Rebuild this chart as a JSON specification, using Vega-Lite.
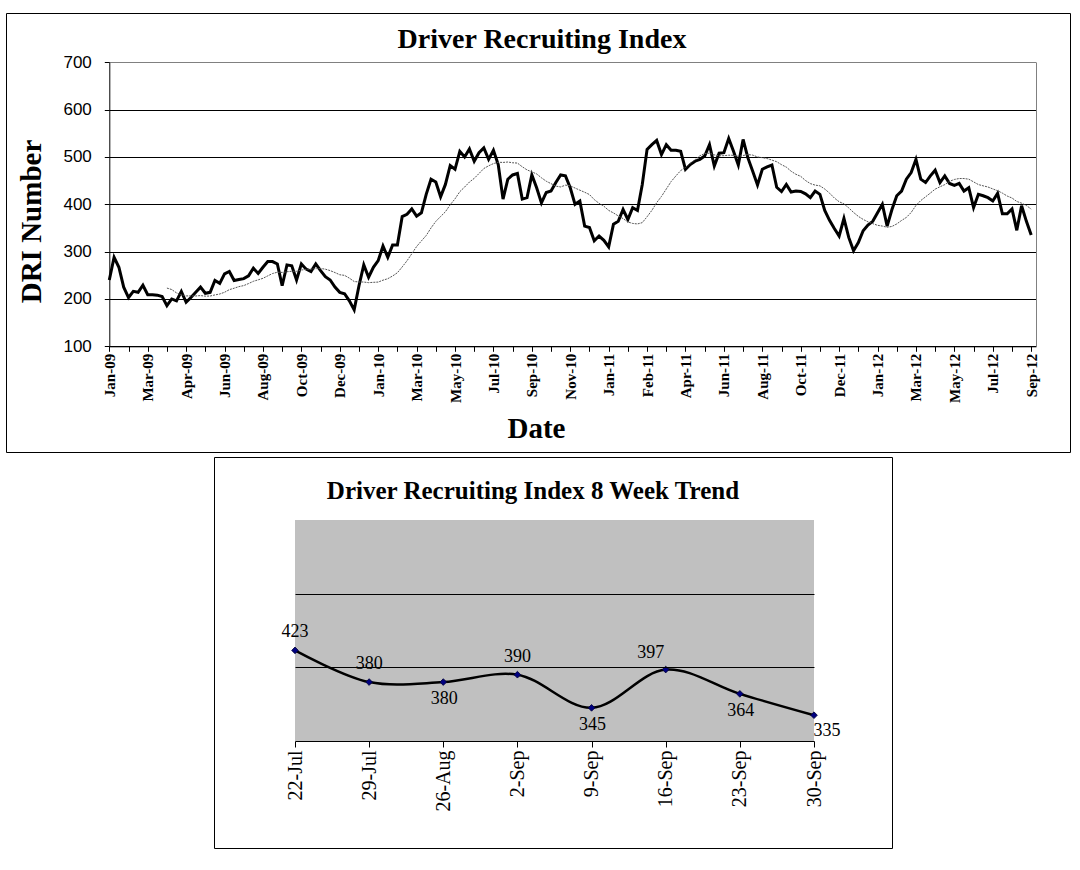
{
  "$schema": "https://vega.github.io/schema/vega-lite/v6.json",
  "background": "white",
  "padding": {"left": 5, "top": 12, "right": 0, "bottom": 0},
  "config": {
    "view": {"stroke": "black", "strokeWidth": 1},
    "font": "Liberation Serif",
    "axis": {"domainColor": "black", "tickColor": "black", "labelColor": "black", "titleColor": "black", "gridColor": "black", "gridOpacity": 1}
  },
  "datasets": {
    "weekly": [
      {"date": "2009-01-04", "dri": 240}, {"date": "2009-01-11", "dri": 288}, {"date": "2009-01-18", "dri": 267}, {"date": "2009-01-25", "dri": 225},
      {"date": "2009-02-01", "dri": 203}, {"date": "2009-02-08", "dri": 216}, {"date": "2009-02-15", "dri": 214}, {"date": "2009-02-22", "dri": 229},
      {"date": "2009-03-01", "dri": 209}, {"date": "2009-03-08", "dri": 209}, {"date": "2009-03-15", "dri": 208}, {"date": "2009-03-22", "dri": 205},
      {"date": "2009-03-29", "dri": 186}, {"date": "2009-04-05", "dri": 200}, {"date": "2009-04-12", "dri": 196}, {"date": "2009-04-19", "dri": 216},
      {"date": "2009-04-26", "dri": 193}, {"date": "2009-05-03", "dri": 203}, {"date": "2009-05-10", "dri": 214}, {"date": "2009-05-17", "dri": 225},
      {"date": "2009-05-24", "dri": 212}, {"date": "2009-05-31", "dri": 214}, {"date": "2009-06-07", "dri": 239}, {"date": "2009-06-14", "dri": 233},
      {"date": "2009-06-21", "dri": 253}, {"date": "2009-06-28", "dri": 258}, {"date": "2009-07-05", "dri": 239}, {"date": "2009-07-12", "dri": 241},
      {"date": "2009-07-19", "dri": 243}, {"date": "2009-07-26", "dri": 249}, {"date": "2009-08-02", "dri": 265}, {"date": "2009-08-09", "dri": 254},
      {"date": "2009-08-16", "dri": 267}, {"date": "2009-08-23", "dri": 279}, {"date": "2009-08-30", "dri": 279}, {"date": "2009-09-06", "dri": 274},
      {"date": "2009-09-13", "dri": 228}, {"date": "2009-09-20", "dri": 272}, {"date": "2009-09-27", "dri": 270}, {"date": "2009-10-04", "dri": 240},
      {"date": "2009-10-11", "dri": 274}, {"date": "2009-10-18", "dri": 263}, {"date": "2009-10-25", "dri": 258}, {"date": "2009-11-01", "dri": 274},
      {"date": "2009-11-08", "dri": 260}, {"date": "2009-11-15", "dri": 247}, {"date": "2009-11-22", "dri": 240}, {"date": "2009-11-29", "dri": 225},
      {"date": "2009-12-06", "dri": 214}, {"date": "2009-12-13", "dri": 211}, {"date": "2009-12-20", "dri": 196}, {"date": "2009-12-27", "dri": 177},
      {"date": "2010-01-03", "dri": 228}, {"date": "2010-01-10", "dri": 272}, {"date": "2010-01-17", "dri": 246}, {"date": "2010-01-24", "dri": 267},
      {"date": "2010-01-31", "dri": 281}, {"date": "2010-02-07", "dri": 312}, {"date": "2010-02-14", "dri": 288}, {"date": "2010-02-21", "dri": 314},
      {"date": "2010-02-28", "dri": 314}, {"date": "2010-03-07", "dri": 374}, {"date": "2010-03-14", "dri": 379}, {"date": "2010-03-21", "dri": 390},
      {"date": "2010-03-28", "dri": 375}, {"date": "2010-04-04", "dri": 382}, {"date": "2010-04-11", "dri": 421}, {"date": "2010-04-18", "dri": 453},
      {"date": "2010-04-25", "dri": 447}, {"date": "2010-05-02", "dri": 416}, {"date": "2010-05-09", "dri": 442}, {"date": "2010-05-16", "dri": 482},
      {"date": "2010-05-23", "dri": 474}, {"date": "2010-05-30", "dri": 512}, {"date": "2010-06-06", "dri": 500}, {"date": "2010-06-13", "dri": 517},
      {"date": "2010-06-20", "dri": 491}, {"date": "2010-06-27", "dri": 509}, {"date": "2010-07-04", "dri": 519}, {"date": "2010-07-11", "dri": 495},
      {"date": "2010-07-18", "dri": 514}, {"date": "2010-07-25", "dri": 484}, {"date": "2010-08-01", "dri": 411}, {"date": "2010-08-08", "dri": 453},
      {"date": "2010-08-15", "dri": 462}, {"date": "2010-08-22", "dri": 465}, {"date": "2010-08-29", "dri": 411}, {"date": "2010-09-05", "dri": 414},
      {"date": "2010-09-12", "dri": 462}, {"date": "2010-09-19", "dri": 435}, {"date": "2010-09-26", "dri": 403}, {"date": "2010-10-03", "dri": 425},
      {"date": "2010-10-10", "dri": 428}, {"date": "2010-10-17", "dri": 446}, {"date": "2010-10-24", "dri": 462}, {"date": "2010-10-31", "dri": 460},
      {"date": "2010-11-07", "dri": 435}, {"date": "2010-11-14", "dri": 400}, {"date": "2010-11-21", "dri": 407}, {"date": "2010-11-28", "dri": 354},
      {"date": "2010-12-05", "dri": 351}, {"date": "2010-12-12", "dri": 323}, {"date": "2010-12-19", "dri": 333}, {"date": "2010-12-26", "dri": 324},
      {"date": "2011-01-02", "dri": 310}, {"date": "2011-01-09", "dri": 358}, {"date": "2011-01-16", "dri": 364}, {"date": "2011-01-23", "dri": 389},
      {"date": "2011-01-30", "dri": 368}, {"date": "2011-02-06", "dri": 393}, {"date": "2011-02-13", "dri": 387}, {"date": "2011-02-20", "dri": 442},
      {"date": "2011-02-27", "dri": 516}, {"date": "2011-03-06", "dri": 526}, {"date": "2011-03-13", "dri": 535}, {"date": "2011-03-20", "dri": 505},
      {"date": "2011-03-27", "dri": 526}, {"date": "2011-04-03", "dri": 514}, {"date": "2011-04-10", "dri": 514}, {"date": "2011-04-17", "dri": 512},
      {"date": "2011-04-24", "dri": 474}, {"date": "2011-05-01", "dri": 484}, {"date": "2011-05-08", "dri": 491}, {"date": "2011-05-15", "dri": 495},
      {"date": "2011-05-22", "dri": 502}, {"date": "2011-05-29", "dri": 526}, {"date": "2011-06-05", "dri": 481}, {"date": "2011-06-12", "dri": 508},
      {"date": "2011-06-19", "dri": 509}, {"date": "2011-06-26", "dri": 539}, {"date": "2011-07-03", "dri": 512}, {"date": "2011-07-10", "dri": 483},
      {"date": "2011-07-17", "dri": 537}, {"date": "2011-07-24", "dri": 498}, {"date": "2011-07-31", "dri": 470}, {"date": "2011-08-07", "dri": 441},
      {"date": "2011-08-14", "dri": 474}, {"date": "2011-08-21", "dri": 479}, {"date": "2011-08-28", "dri": 483}, {"date": "2011-09-04", "dri": 436},
      {"date": "2011-09-11", "dri": 427}, {"date": "2011-09-18", "dri": 442}, {"date": "2011-09-25", "dri": 426}, {"date": "2011-10-02", "dri": 428},
      {"date": "2011-10-09", "dri": 427}, {"date": "2011-10-16", "dri": 422}, {"date": "2011-10-23", "dri": 414}, {"date": "2011-10-30", "dri": 428},
      {"date": "2011-11-06", "dri": 421}, {"date": "2011-11-13", "dri": 387}, {"date": "2011-11-20", "dri": 366}, {"date": "2011-11-27", "dri": 349},
      {"date": "2011-12-04", "dri": 333}, {"date": "2011-12-11", "dri": 370}, {"date": "2011-12-18", "dri": 330}, {"date": "2011-12-25", "dri": 302},
      {"date": "2012-01-01", "dri": 319}, {"date": "2012-01-08", "dri": 344}, {"date": "2012-01-15", "dri": 356}, {"date": "2012-01-22", "dri": 364},
      {"date": "2012-01-29", "dri": 382}, {"date": "2012-02-05", "dri": 400}, {"date": "2012-02-12", "dri": 354}, {"date": "2012-02-19", "dri": 389},
      {"date": "2012-02-26", "dri": 418}, {"date": "2012-03-04", "dri": 428}, {"date": "2012-03-11", "dri": 453}, {"date": "2012-03-18", "dri": 467},
      {"date": "2012-03-25", "dri": 495}, {"date": "2012-04-01", "dri": 453}, {"date": "2012-04-08", "dri": 446}, {"date": "2012-04-15", "dri": 460},
      {"date": "2012-04-22", "dri": 472}, {"date": "2012-04-29", "dri": 446}, {"date": "2012-05-06", "dri": 460}, {"date": "2012-05-13", "dri": 444},
      {"date": "2012-05-20", "dri": 440}, {"date": "2012-05-27", "dri": 444}, {"date": "2012-06-03", "dri": 428}, {"date": "2012-06-10", "dri": 435},
      {"date": "2012-06-17", "dri": 393}, {"date": "2012-06-24", "dri": 421}, {"date": "2012-07-01", "dri": 418}, {"date": "2012-07-08", "dri": 414},
      {"date": "2012-07-15", "dri": 407}, {"date": "2012-07-22", "dri": 423}, {"date": "2012-07-29", "dri": 380}, {"date": "2012-08-05", "dri": 380},
      {"date": "2012-08-12", "dri": 390}, {"date": "2012-08-19", "dri": 345}, {"date": "2012-08-26", "dri": 397}, {"date": "2012-09-02", "dri": 364},
      {"date": "2012-09-09", "dri": 335}
    ],
    "trend": [
      {"week": "22-Jul", "dri": 423}, {"week": "29-Jul", "dri": 380}, {"week": "26-Aug", "dri": 380}, {"week": "2-Sep", "dri": 390},
      {"week": "9-Sep", "dri": 345}, {"week": "16-Sep", "dri": 397}, {"week": "23-Sep", "dri": 364}, {"week": "30-Sep", "dri": 335}
    ]
  },
  "spacing": 3,
  "vconcat": [
    {
      "width": 1064,
      "height": 439,
      "data": {"name": "weekly"},
      "title": {"text": "Driver Recruiting Index", "font": "Liberation Serif", "fontSize": 28, "fontWeight": "bold", "color": "black", "anchor": "middle", "frame": "group", "offset": -63, "baseline": "alphabetic", "dx": 4},
      "encoding": {
        "x": {
          "field": "date", "type": "temporal",
          "scale": {"type": "utc", "domain": [{"year": 2009, "month": 1, "date": 4, "utc": true}, {"year": 2012, "month": 9, "date": 16, "utc": true}], "range": [103.3, 1030], "nice": false},
          "axis": {
            "orient": "bottom", "offset": -105.7,
            "tickCount": {"interval": "week", "step": 4},
            "labelExpr": "round((datum.value - 1231027200000) / 604800000) % 8 == 0 ? utcFormat(datum.value, '%b-%y') : ''",
            "labelAngle": -90, "labelAlign": "right", "labelBaseline": "middle",
            "labelFont": "Liberation Serif", "labelFontWeight": "bold", "labelFontSize": 15, "labelPadding": 2,
            "labelOverlap": false, "labelFlush": false, "tickSize": 5, "grid": false,
            "title": "Date", "titleFont": "Liberation Serif", "titleFontSize": 29, "titleFontWeight": "bold",
            "titleX": 530, "titleY": 91, "titleBaseline": "alphabetic", "titleAlign": "center"
          }
        }
      },
      "layer": [
        {
          "mark": {"type": "line", "color": "black", "strokeWidth": 3},
          "encoding": {
            "y": {
              "field": "dri", "type": "quantitative",
              "scale": {"domain": [100, 700], "range": [333.3, 49.3], "nice": false, "zero": false},
              "axis": {
                "orient": "left", "offset": -103.3, "values": [100, 200, 300, 400, 500, 600, 700],
                "grid": true, "gridColor": {"condition": {"test": "datum.value === 700", "value": "#808080"}, "value": "black"},
                "tickSize": 5, "labelFont": "Liberation Sans", "labelFontSize": 17, "labelPadding": 13,
                "title": "DRI Number", "titleFont": "Liberation Serif", "titleFontSize": 29, "titleFontWeight": "bold",
                "titleAngle": -90, "titleX": -69, "titleY": 208, "titleBaseline": "alphabetic", "titleAlign": "center"
              }
            }
          }
        },
        {
          "transform": [
            {"window": [{"op": "mean", "field": "dri", "as": "ma"}, {"op": "count", "as": "n"}], "frame": [-12, 0], "sort": [{"field": "date", "order": "ascending"}]},
            {"filter": "datum.n >= 13"}
          ],
          "mark": {"type": "line", "color": "#555555", "strokeWidth": 1, "strokeDash": [2, 1]},
          "encoding": {
            "y": {
              "field": "ma", "type": "quantitative",
              "axis": {"orient": "right", "offset": -34, "labels": false, "ticks": false, "grid": false, "title": null, "domainColor": "#808080"}
            }
          }
        }
      ]
    },
    {
      "spacing": 7,
      "hconcat": [
        {"width": 200, "height": 1, "data": {"values": []}, "mark": "point", "view": {"stroke": null}},
        {
          "width": 678,
          "height": 391,
          "data": {"name": "trend"},
          "title": {"text": "Driver Recruiting Index 8 Week Trend", "font": "Liberation Serif", "fontSize": 25, "fontWeight": "bold", "color": "black", "anchor": "middle", "frame": "group", "offset": -67, "baseline": "alphabetic", "dx": -20},
          "encoding": {
            "x": {
              "field": "week", "type": "ordinal", "sort": null,
              "scale": {"type": "point", "padding": 0, "range": [81, 600], "domain": ["22-Jul", "29-Jul", "26-Aug", "2-Sep", "9-Sep", "16-Sep", "23-Sep", "30-Sep"]},
              "axis": {
                "orient": "bottom", "offset": -107, "title": null,
                "labelAngle": -90, "labelAlign": "right", "labelBaseline": "middle",
                "labelFont": "Liberation Serif", "labelFontSize": 20, "labelPadding": 3,
                "tickSize": 6, "grid": false, "labelOverlap": false
              }
            },
            "y": {
              "field": "dri", "type": "quantitative",
              "scale": {"domain": [300, 600], "range": [284, 63], "nice": false, "zero": false},
              "axis": {"values": [400, 500], "grid": true, "domain": false, "ticks": false, "labels": false, "title": null, "zindex": 1}
            }
          },
          "layer": [
            {
              "mark": {"type": "area", "color": "#c0c0c0", "opacity": 1},
              "encoding": {"y": {"datum": 600}, "y2": {"datum": 300}}
            },
            {
              "mark": {"type": "line", "color": "black", "strokeWidth": 2.5, "interpolate": "catmull-rom"}
            },
            {
              "mark": {"type": "point", "shape": "diamond", "filled": true, "fill": "#000080", "stroke": "#000033", "strokeWidth": 0.8, "size": 45, "opacity": 1}
            },
            {
              "transform": [{"filter": {"field": "week", "oneOf": ["22-Jul", "29-Jul", "2-Sep"]}}],
              "mark": {"type": "text", "dy": -18, "fontSize": 18, "font": "Liberation Serif", "color": "black"},
              "encoding": {"text": {"field": "dri"}}
            },
            {
              "transform": [{"filter": {"field": "week", "oneOf": ["16-Sep"]}}],
              "mark": {"type": "text", "dy": -17, "dx": -15, "fontSize": 18, "font": "Liberation Serif", "color": "black"},
              "encoding": {"text": {"field": "dri"}}
            },
            {
              "transform": [{"filter": {"field": "week", "oneOf": ["26-Aug", "9-Sep", "23-Sep"]}}],
              "mark": {"type": "text", "dy": 17, "dx": 1, "fontSize": 18, "font": "Liberation Serif", "color": "black"},
              "encoding": {"text": {"field": "dri"}}
            },
            {
              "transform": [{"filter": {"field": "week", "oneOf": ["30-Sep"]}}],
              "mark": {"type": "text", "dy": 16, "dx": 13, "fontSize": 18, "font": "Liberation Serif", "color": "black"},
              "encoding": {"text": {"field": "dri"}}
            }
          ]
        }
      ]
    }
  ]
}
